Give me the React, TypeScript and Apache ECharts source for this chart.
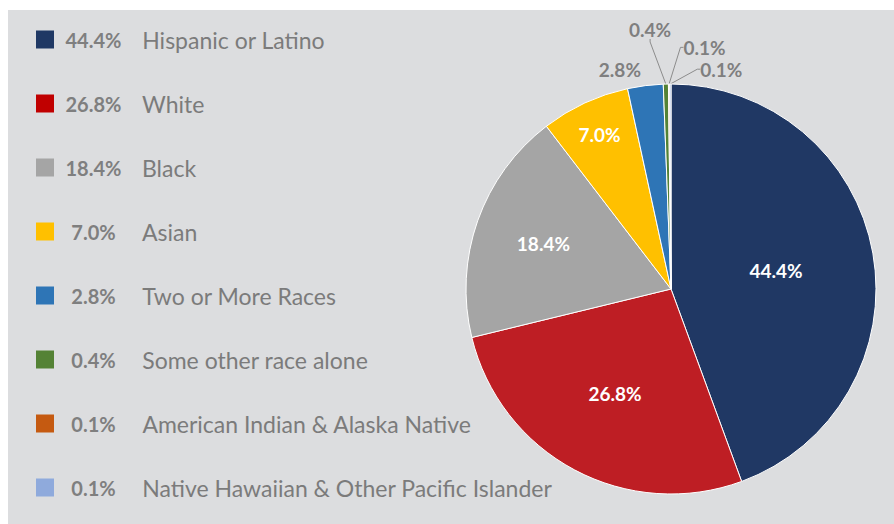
import React, { useEffect, useRef } from "react";
import * as echarts from "echarts";

const categories = [
  "Hispanic or Latino",
  "White",
  "Black",
  "Asian",
  "Two or More Races",
  "Some other race alone",
  "American Indian & Alaska Native",
  "Native Hawaiian & Other Pacific Islander",
];
const values = [44.4, 26.8, 18.4, 7.0, 2.8, 0.4, 0.1, 0.1];
const sliceColors = ["#203864", "#be1e24", "#a5a5a5", "#ffc000", "#2e75b6", "#548235", "#c55a11", "#8faadc"];
const legendColors = ["#1f3864", "#c00000", "#a5a5a5", "#ffc000", "#2e75b6", "#548235", "#c55a11", "#8faadc"];

// label placement: inside labels by radius fraction along mid angle; outside by [angleDeg from top, radius fraction]
const insideLabelRadius: Record<number, number> = { 0: 0.52, 1: 0.58, 2: 0.66, 3: 0.83 };
const outsideLabelPolar: Record<number, [number, number]> = {
  4: [-13.1, 1.1],
  5: [-4.6, 1.27],
  6: [7.9, 1.19],
  7: [12.9, 1.1],
};

const FONT = "Lato";
const W = 894;
const H = 524;
const CX = 671;
const CY = 289;
const R = 205;

export default function App() {
  const ref = useRef<HTMLDivElement>(null);
  useEffect(() => {
    const chart = echarts.init(ref.current!, undefined, { renderer: "svg" });
    const total = values.reduce((a, b) => a + b, 0);
    const cum: number[] = [];
    let acc = 0;
    values.forEach((v) => {
      cum.push(acc + v / 2);
      acc += v;
    });
    const fmt = (v: number) => v.toFixed(1) + "%";

    const data = categories.map((name, i) => {
      const inside = insideLabelRadius[i] != null;
      return {
        name,
        value: values[i],
        itemStyle: { color: sliceColors[i] },
        label: {
          show: true,
          color: inside ? "#ffffff" : "#7f7f7f",
        },
        labelLine: { show: !inside && i >= 5 },
      };
    });

    chart.setOption({
      animation: false,
      backgroundColor: "#ffffff",
      graphic: [
        {
          type: "rect",
          shape: { x: 8, y: 10, width: W - 8, height: H - 10 },
          style: { fill: "#dcdddf" },
          silent: true,
          z: -10,
        },
      ],
      legend: {
        orient: "vertical",
        left: 31,
        top: 23,
        itemWidth: 18,
        itemHeight: 18,
        itemGap: 41,
        icon: "rect",
        selectedMode: false,
        itemStyle: { borderWidth: 0 },
        data: categories.map((name, i) => ({
          name,
          itemStyle: { color: legendColors[i], borderWidth: 0 },
        })),
        formatter: (name: string) => {
          const i = categories.indexOf(name);
          return `{p|${fmt(values[i])}}{n|${name}}`;
        },
        textStyle: {
          rich: {
            p: {
              fontFamily: FONT,
              fontWeight: "bold",
              fontSize: 20,
              color: "#7f7f7f",
              width: 69,
              align: "right",
              lineHeight: 22,
            },
            n: {
              fontFamily: FONT,
              fontSize: 23,
              color: "#7b7b7b",
              padding: [0, 0, 0, 14],
              lineHeight: 22,
            },
          },
        },
      },
      series: [
        {
          type: "pie",
          center: [CX, CY],
          radius: [0, R],
          startAngle: 90,
          clockwise: true,
          avoidLabelOverlap: false,
          itemStyle: { borderColor: "#ffffff", borderWidth: 1 },
          label: {
            position: "outside",
            fontFamily: FONT,
            fontWeight: "bold",
            fontSize: 19,
            formatter: (p: any) => fmt(p.value),
          },
          labelLine: {
            length: 10,
            length2: 3,
            lineStyle: { color: "#8c8c8c", width: 1 },
          },
          labelLayout: (p: any) => {
            const i = p.dataIndex;
            if (insideLabelRadius[i] != null) {
              const ang = (cum[i] / total) * Math.PI * 2;
              const r = insideLabelRadius[i] * R;
              return {
                x: CX + r * Math.sin(ang),
                y: CY - r * Math.cos(ang),
                align: "center",
                verticalAlign: "middle",
              };
            }
            const [deg, f] = outsideLabelPolar[i];
            const a = (deg * Math.PI) / 180;
            return {
              x: CX + f * R * Math.sin(a),
              y: CY - f * R * Math.cos(a),
              align: "center",
              verticalAlign: "middle",
            };
          },
          data,
        },
      ],
    });
    return () => chart.dispose();
  }, []);
  return (
    <div
      ref={ref}
      style={{ position: "fixed", left: 0, top: 0, width: W, height: H }}
    />
  );
}
